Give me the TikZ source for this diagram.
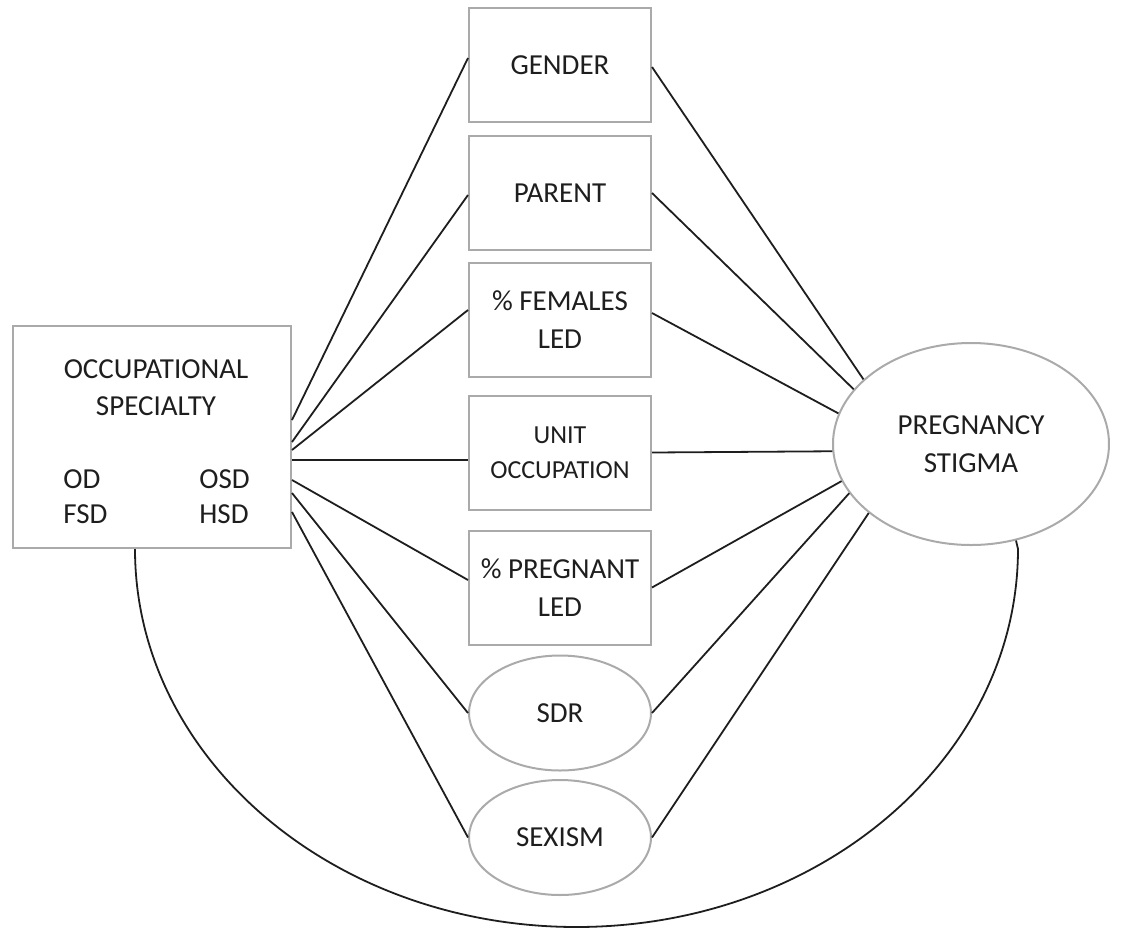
\documentclass[tikz,border=0pt]{standalone}
\usepackage{fontspec}
\setmainfont{Carlito}
\usetikzlibrary{shapes.geometric,calc}

\definecolor{boxgray}{RGB}{170,170,170}
\definecolor{txt}{RGB}{30,30,30}

\tikzset{
  varbox/.style={draw=boxgray, line width=1pt, minimum width=91pt, minimum height=57pt,
    inner sep=0pt, align=center, text=txt, font=\fontsize{14.5}{19}\selectfont},
  varoval/.style={varbox, ellipse, minimum height=57.5pt},
  lbl/.style={inner sep=0pt, text=txt, font=\fontsize{14.5}{18.5}\selectfont},
  link/.style={draw=txt, line width=0.9pt},
}

\begin{document}
\begin{tikzpicture}[x=0.5pt,y=0.5pt,yscale=-1,xscale=1]
\useasboundingbox (0,0) rectangle (1121,928);

% --- 1. left box: occupational specialty ---
\node [draw=boxgray, line width=1pt, minimum width=139pt, minimum height=111pt] (occ) at (152,437) {};
\node [lbl, align=center] (occtitle) at (156,388) {OCCUPATIONAL\\SPECIALTY};
\node [lbl, anchor=base west] (od)  at (63,488)  {OD};
\node [lbl, anchor=base west] (osd) at (199,488) {OSD};
\node [lbl, anchor=base west] (fsd) at (63,523)  {FSD};
\node [lbl, anchor=base west] (hsd) at (199,523) {HSD};

% --- 2. middle column ---
\node [varbox] (gender)   at (560,65)    {GENDER};
\node [varbox] (parent)   at (560,193)   {PARENT};
\node [varbox] (females)  at (560,319.5) {\% FEMALES\\LED};
\node [varbox, font=\fontsize{13}{17.5}\selectfont] (unitocc) at (560,452.5) {UNIT\\OCCUPATION};
\node [varbox] (pregnant) at (560,587.5) {\% PREGNANT\\LED};
\node [varoval] (sdr)     at (560,713)   {SDR};
\node [varoval] (sexism)  at (560,837.5) {SEXISM};

% --- 3. outcome ---
\node [varbox, ellipse, minimum width=138pt, minimum height=101pt] (stigma) at (971,444) {PREGNANCY\\STIGMA};

% --- 4. left links ---
\draw [link] ($(occ.east)+(0,-17)$) -- ($(gender.west)+(0,-7)$);
\draw [link] ($(occ.east)+(0,5)$)   -- ($(parent.west)+(0,2)$);
\draw [link] ($(occ.east)+(0,13)$)  -- ($(females.west)+(0,-9.5)$);
\draw [link] ($(occ.east)+(0,23)$)  -- ($(unitocc.west)+(0,7.5)$);
\draw [link] ($(occ.east)+(0,43)$)  -- ($(pregnant.west)+(0,-7.5)$);
\draw [link] ($(occ.east)+(0,56)$)  -- (sdr.west);
\draw [link] ($(occ.east)+(0,75)$)  -- (sexism.west);

% --- 5. right links ---
\draw [link] ($(gender.east)+(0,2)$)     -- (stigma.149.4);
\draw [link] (parent.east)               -- (stigma.155.4);
\draw [link] ($(females.east)+(0,-6.5)$) -- (stigma.167.5);
\draw [link] (unitocc.east)              -- (stigma.183.3);
\draw [link] (pregnant.east)             -- (stigma.196.8);
\draw [link] (sdr.east)                  -- (stigma.202.4);
\draw [link] (sexism.east)               -- (stigma.214.5);

% --- 6. direct path underneath ---
\draw [link] ($(occ.south)+(-17,0)$) arc [start angle=180, end angle=0, x radius=441.5, y radius=378]
  -- (stigma.295.6);

\end{tikzpicture}
\end{document}
